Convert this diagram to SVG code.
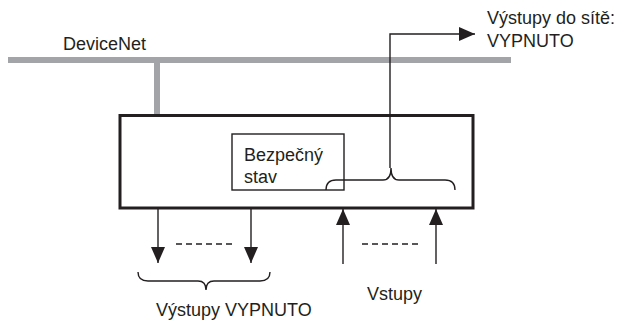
<svg xmlns="http://www.w3.org/2000/svg" width="619" height="320" viewBox="0 0 619 320">
<defs>
<style>
.t{font-family:"Liberation Sans",Arial,sans-serif;font-size:18px;fill:#231f20}
.ln{stroke:#231f20;stroke-width:1.4;fill:none}
.bus{stroke:#a2a4a7;stroke-width:6;fill:none}
.dash{stroke:#231f20;stroke-width:1.4;stroke-dasharray:6 4;fill:none}
</style>
<marker id="ah" viewBox="0 0 16 14" refX="16" refY="7" markerWidth="16" markerHeight="14" markerUnits="userSpaceOnUse" orient="auto">
<path d="M0,0 L16,7 L0,14 Z" fill="#231f20"/>
</marker>
</defs>
<rect width="619" height="320" fill="#ffffff"/>
<g id="devicenet">
<line class="bus" x1="8" y1="60" x2="511" y2="60"/>
<line class="bus" x1="157" y1="60" x2="157" y2="115"/>
<text class="t" x="63" y="50">DeviceNet</text>
</g>
<g id="device">
<rect x="120" y="115.5" width="353" height="92.5" fill="none" stroke="#231f20" stroke-width="3"/>
</g>
<g id="safe-state">
<rect x="232" y="134" width="112" height="56" fill="none" stroke="#231f20" stroke-width="1.4"/>
<text class="t" x="244" y="161">Bezpečný</text>
<text class="t" x="244" y="183">stav</text>
</g>
<g id="network-outputs">
<text class="t" x="487" y="24">Výstupy do sítě:</text>
<text class="t" x="487" y="47">VYPNUTO</text>
</g>
<g id="outputs-label">
<text class="t" x="156" y="316">Výstupy VYPNUTO</text>
</g>
<g id="inputs-label">
<text class="t" x="367" y="300">Vstupy</text>
</g>
<g id="connectors">
<path class="ln" d="M326,190 Q326,180 336,180 L383,180 Q391,180 391,168 Q391,180 399,180 L445,180 Q455,180 455,190"/>
<path class="ln" d="M390,168 L390,34 L475,34" marker-end="url(#ah)"/>
<line class="ln" x1="158" y1="209" x2="158" y2="263" marker-end="url(#ah)"/>
<line class="ln" x1="251" y1="209" x2="251" y2="263" marker-end="url(#ah)"/>
<line class="dash" x1="176" y1="244" x2="232" y2="244"/>
<line class="ln" x1="343" y1="264" x2="343" y2="209" marker-end="url(#ah)"/>
<line class="ln" x1="436" y1="264" x2="436" y2="209" marker-end="url(#ah)"/>
<line class="dash" x1="362" y1="244" x2="418" y2="244"/>
<path class="ln" d="M138,272 Q138,281 148,281 L198,281 Q206,281 206,290 Q206,281 214,281 L260,281 Q270,281 270,272"/>
</g>
</svg>
